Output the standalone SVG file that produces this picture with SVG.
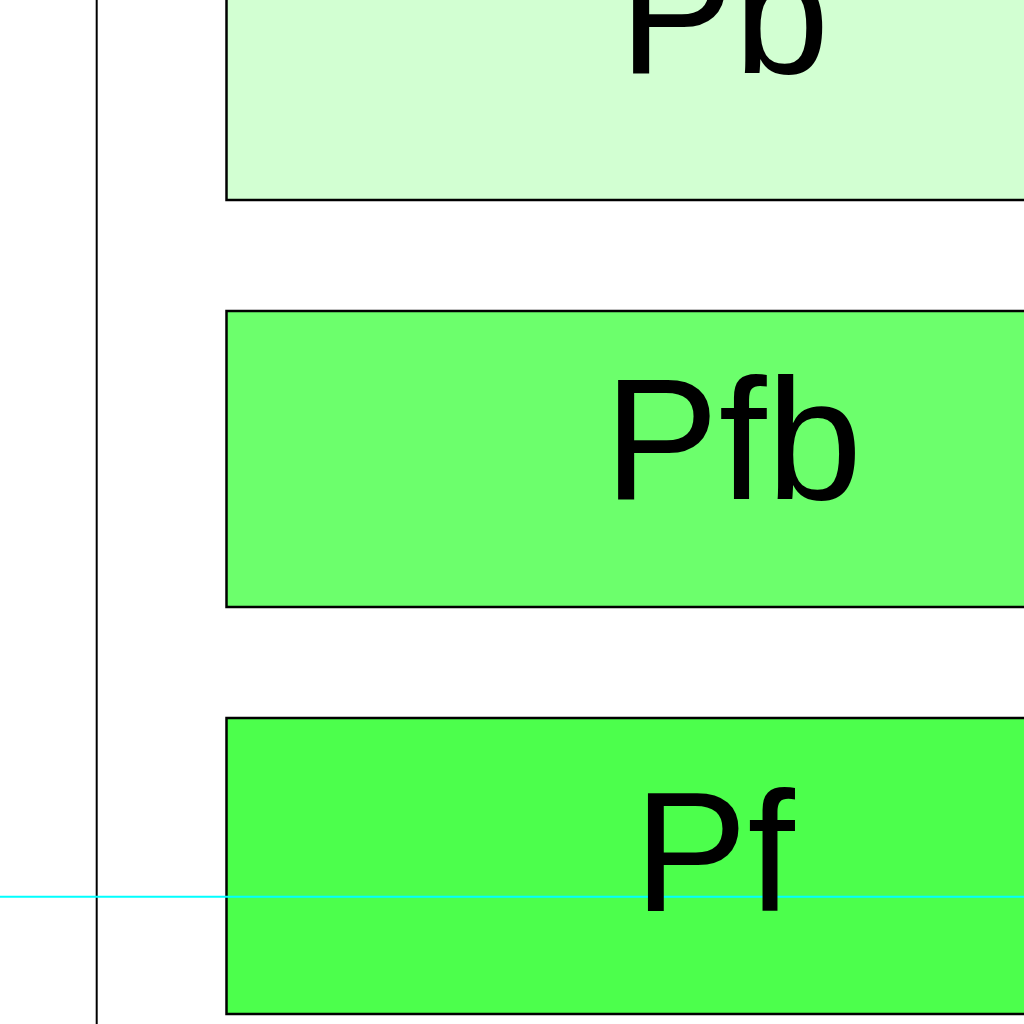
<svg xmlns="http://www.w3.org/2000/svg" width="1024" height="1024" viewBox="0 0 1024 1024">
<style>
.box{stroke:#000;stroke-width:2.5}
.lbl{font-family:"Liberation Sans",Arial,sans-serif;fill:#000}
</style>
<rect width="1024" height="1024" fill="#fff"/>
<g id="connectors">
<line x1="96.7" y1="0" x2="96.7" y2="1024" stroke="#000" stroke-width="2"/>
</g>
<g id="Pb">
<rect class="box" x="226.5" y="-96" width="900" height="296" fill="#d2ffd2"/>
<text class="lbl" x="619" y="73" font-size="172">Pb</text>
</g>
<g id="Pfb">
<rect class="box" x="226.5" y="311" width="900" height="296" fill="#6cff6c"/>
<text class="lbl" x="604" y="499" font-size="172">Pfb</text>
</g>
<g id="Pf">
<rect class="box" x="226.5" y="718" width="900" height="296" fill="#4cff4c"/>
<line x1="0" y1="896.7" x2="1024" y2="896.7" stroke="#00ffff" stroke-width="2"/>
<text class="lbl" x="634" y="910.5" font-size="170">Pf</text>
</g>
</svg>
